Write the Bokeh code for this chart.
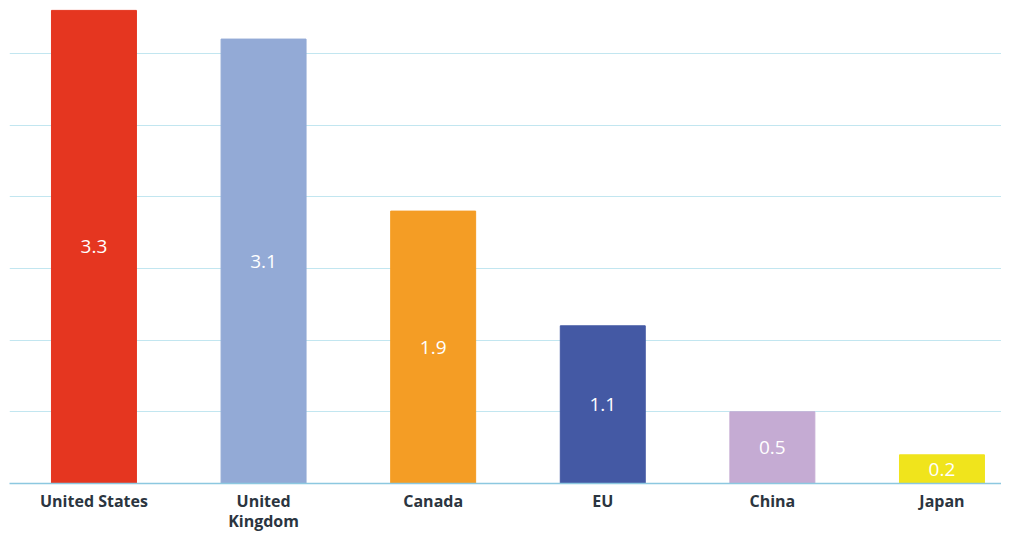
from bokeh.plotting import figure
from bokeh.models import Range1d, ColumnDataSource, FixedTicker
from bokeh.core.properties import value
from bokeh.embed import file_html
from bokeh.resources import INLINE

categories = ["United States", "United\nKingdom", "Canada", "EU", "China", "Japan"]
values = [3.3, 3.1, 1.9, 1.1, 0.5, 0.2]
colors = ["#E53620", "#93AAD6", "#F49D25", "#4459A4", "#C5ABD3", "#F0E41C"]
labels = ["3.3", "3.1", "1.9", "1.1", "0.5", "0.2"]
grid_ticks = [0.5, 1.0, 1.5, 2.0, 2.5, 3.0]

xs = list(range(len(categories)))
src = ColumnDataSource(dict(x=xs, top=values, color=colors, label=labels,
                            mid=[v / 2 for v in values]))

p = figure(width=1001, height=535, output_backend="svg", toolbar_location=None,
           x_range=Range1d(-0.498, 5.351), y_range=Range1d(0, 3.369),
           min_border_left=9, min_border_right=0, min_border_top=0, min_border_bottom=0)
p.outline_line_color = None
p.background_fill_color = "white"
p.border_fill_color = "white"

p.vbar(x="x", top="top", width=0.501, bottom=0, color="color", source=src)
p.text(x="x", y="mid", text="label", source=src, text_color="white",
       text_align="center", text_baseline="middle", text_font_size="19px",
       text_font=value("Open Sans"))

p.yaxis.visible = False
p.yaxis.ticker = FixedTicker(ticks=grid_ticks)
p.ygrid.ticker = FixedTicker(ticks=grid_ticks)
p.ygrid.grid_line_color = "#C2E6F0"
p.ygrid.grid_line_width = 1
p.xgrid.grid_line_color = None

p.xaxis.ticker = FixedTicker(ticks=xs)
p.xaxis.major_label_overrides = {i: c for i, c in enumerate(categories)}
p.xaxis.axis_line_color = "#8CC8E0"
p.xaxis.axis_line_width = 1.5
p.xaxis.major_tick_line_color = None
p.xaxis.minor_tick_line_color = None
p.xaxis.major_tick_out = 0
p.xaxis.major_tick_in = 0
p.xaxis.minor_tick_out = 0
p.xaxis.minor_tick_in = 0
p.xaxis.major_label_text_font = "Open Sans"
p.xaxis.major_label_text_font_style = "bold"
p.xaxis.major_label_text_font_size = "16px"
p.xaxis.major_label_text_color = "#2B3540"
p.xaxis.major_label_standoff = 6
p.xaxis.major_label_text_line_height = 0.95

open("out.html", "w").write(file_html(p, INLINE))
